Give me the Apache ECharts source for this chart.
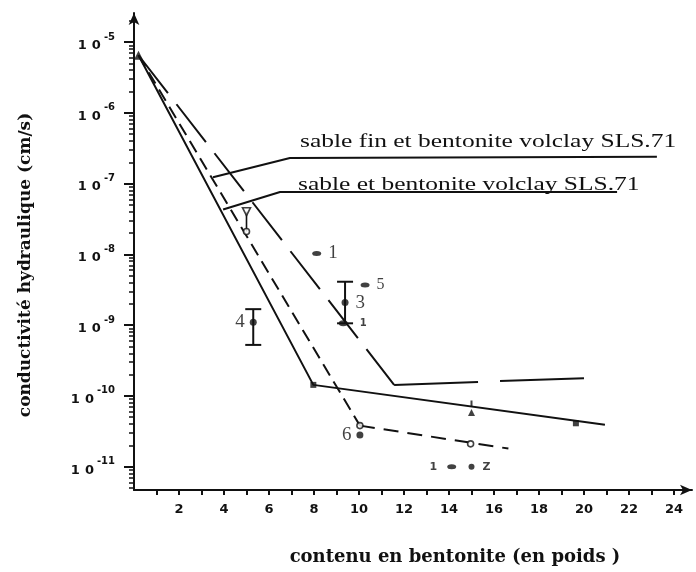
<!DOCTYPE html>
<html>
<head>
<meta charset="utf-8">
<script src="https://cdn.jsdelivr.net/npm/echarts@6/dist/echarts.min.js"></script>
<style>
  html, body { margin: 0; padding: 0; background: #ffffff; }
  #chart { width: 696px; height: 572px; }
</style>
</head>
<body>
<div id="chart"></div>
<script>
// Hydraulic conductivity (cm/s) against bentonite content (% by weight).
// Conductivities are stored in cm/s and plotted on a log10 scale.

// ---- axes ----
const decades = [-11, -10, -9, -8, -7, -6, -5];
const xTickValues = [1, 2, 3, 4, 5, 6, 7, 8, 9, 10, 11, 12, 13, 14, 15, 16, 17, 18, 19, 20, 21, 22, 23, 24];
const xLabelValues = [2, 4, 6, 8, 10, 12, 14, 16, 18, 20, 22, 24];

// ---- curves [bentonite %, k cm/s] ----
const curveSolid = [[0.2, 6.5e-6], [7.97, 1.43e-10], [20.93, 3.9e-11]];
const curveShortDash1 = [[0.2, 6.5e-6], [10.04, 3.8e-11]];
const curveShortDash2 = [[10.04, 3.8e-11], [16.64, 1.8e-11]];
const curveLongDash1 = [[0.2, 6.5e-6], [11.56, 1.43e-10]];
const curveLongDash2 = [[11.56, 1.43e-10], [20.4, 1.8e-10]];

// ---- markers on the curves ----
const startPoint = [[0.2, 6.5e-6]];
const openCircles = [[5.0, 2.1e-8], [10.04, 3.8e-11], [14.96, 2.1e-11]];
const cupMark = [[5.0, 4.0e-8]];
const cupStem = [[5.0, 2.1e-8], [5.0, 4.0e-8]];
const solidSquares = [[7.97, 1.43e-10], [19.64, 4.1e-11]];
const solidTriangles = [[15.0, 5.8e-11]];
const solidTicks = [[15.0, 7.8e-11]];

// ---- measured points ----
const pointNames = ['1', '3', '5', '4', '6'];
const pointX = [8.12, 9.38, 10.27, 5.30, 10.04];
const pointK = [1.03e-8, 2.08e-9, 3.7e-9, 1.10e-9, 2.8e-11];
// error bars: [bentonite %, upper k, lower k]
const errorBars = [[9.38, 4.1e-9, 1.06e-9], [5.30, 1.68e-9, 5.25e-10]];
const smallPoints = [[9.30, 1.06e-9, '1']];
const keyPoints = [[14.12, 1.0e-11, '1'], [15.0, 1.0e-11, 'Z']];

// ---- leader lines for the two mixtures ----
const leaderFine = [[3.51, 1.23e-7], [6.93, 2.3e-7], [23.24, 2.4e-7]];
const leaderSand = [[3.96, 4.3e-8], [6.49, 7.6e-8], [21.47, 7.6e-8]];
const mixtureNames = ['sable fin et bentonite volclay SLS.71', 'sable et bentonite volclay SLS.71'];

const lg = (p) => [p[0], Math.log10(p[1])];
const minorTicks = [];
for (let d = -12; d <= -5; d++) {
  for (let m = 2; m <= 9; m++) {
    const v = d + Math.log10(m);
    if (v > -11.33 && v < -4.6) minorTicks.push(v);
  }
}

const INK = '#111111';
const chart = echarts.init(document.getElementById('chart'));

const lineSeries = (data, type, width) => ({
  type: 'line',
  data: data.map(lg),
  symbol: 'none',
  silent: true,
  lineStyle: { color: INK, width: width || 2, type: type || 'solid' },
  z: 3
});

const markSeries = (data, symbol, size, filled, extra) => Object.assign({
  type: 'scatter',
  data: data.map(lg),
  symbol: symbol,
  symbolSize: size,
  silent: true,
  itemStyle: filled
    ? { color: INK }
    : { color: '#ffffff', borderColor: INK, borderWidth: 1.6 },
  z: 5
}, extra || {});

const numberLabel = (pos, dist, size) => ({
  show: true,
  position: pos,
  distance: dist,
  color: INK,
  fontFamily: 'Liberation Serif',
  fontSize: size
});

const option = {
  animation: false,
  backgroundColor: '#ffffff',
  grid: { left: 134, right: 4, top: 13, bottom: 82, outerBoundsMode: 'none' },
  xAxis: {
    type: 'value',
    min: 0,
    max: 24.8,
    axisLine: {
      show: true,
      lineStyle: { color: INK, width: 2 },
      symbol: ['none', 'arrow'],
      symbolSize: [8, 12]
    },
    axisTick: { show: true, length: 5, customValues: xTickValues, lineStyle: { color: INK, width: 2 } },
    axisLabel: {
      customValues: xLabelValues,
      color: INK,
      fontFamily: 'DejaVu Sans',
      fontWeight: 'bold',
      fontSize: 13,
      margin: 13
    },
    splitLine: { show: false }
  },
  yAxis: [
    {
      type: 'value',
      min: -11.33,
      max: -4.59,
      axisLine: {
        show: true,
        lineStyle: { color: INK, width: 2 },
        symbol: ['none', 'arrow'],
        symbolSize: [8, 12]
      },
      axisTick: { show: true, length: 10, customValues: decades, lineStyle: { color: INK, width: 2 } },
      axisLabel: {
        customValues: decades,
        margin: 19,
        formatter: (v) => '{o|1}{z|0}{e|' + Math.round(v) + '}',
        rich: {
          o: { fontFamily: 'DejaVu Sans', fontWeight: 'bold', fontSize: 13, color: INK, lineHeight: 20, verticalAlign: 'bottom', padding: [0, 5, 0, 0] },
          z: { fontFamily: 'DejaVu Sans', fontWeight: 'bold', fontSize: 13, color: INK, lineHeight: 20, verticalAlign: 'bottom' },
          e: { fontFamily: 'DejaVu Sans', fontWeight: 'bold', fontSize: 10, color: INK, lineHeight: 20, verticalAlign: 'top', padding: [0, 0, 0, 3] }
        }
      },
      splitLine: { show: false }
    },
    {
      type: 'value',
      min: -11.33,
      max: -4.59,
      position: 'left',
      axisLine: { show: false },
      axisTick: { show: true, length: 5, customValues: minorTicks, lineStyle: { color: INK, width: 1.5 } },
      axisLabel: { show: false },
      splitLine: { show: false }
    }
  ],
  series: [
    lineSeries(curveSolid, 'solid', 2),
    lineSeries(curveShortDash1, [13, 7], 2),
    lineSeries(curveShortDash2, [15, 9], 2),
    lineSeries(curveLongDash1, [48, 14], 2),
    lineSeries(curveLongDash2, [84, 22], 2),
    lineSeries(leaderFine, 'solid', 2),
    lineSeries(leaderSand, 'solid', 2),
    lineSeries(cupStem, 'solid', 1.6),

    markSeries(startPoint, 'triangle', 9, true),
    markSeries(openCircles, 'circle', 6, false),
    markSeries(cupMark, 'triangle', 8, false, { symbolRotate: 180 }),
    markSeries(solidSquares, 'rect', 6, true),
    markSeries(solidTriangles, 'triangle', 7, true),
    markSeries(solidTicks, 'rect', [2, 6], true),

    // error bars
    {
      type: 'custom',
      silent: true,
      data: errorBars.map((e) => [e[0], Math.log10(e[1]), Math.log10(e[2])]),
      renderItem: (params, api) => {
        const top = api.coord([api.value(0), api.value(1)]);
        const bot = api.coord([api.value(0), api.value(2)]);
        const half = 8;
        const st = { stroke: INK, lineWidth: 2 };
        return {
          type: 'group',
          children: [
            { type: 'line', shape: { x1: top[0], y1: top[1], x2: bot[0], y2: bot[1] }, style: st },
            { type: 'line', shape: { x1: top[0] - half, y1: top[1], x2: top[0] + half, y2: top[1] }, style: st },
            { type: 'line', shape: { x1: bot[0] - half, y1: bot[1], x2: bot[0] + half, y2: bot[1] }, style: st }
          ]
        };
      },
      z: 4
    },

    // numbered measurements
    {
      type: 'scatter',
      silent: true,
      symbol: 'circle',
      data: pointX.map((x, i) => {
        const right = i < 3;
        return {
          name: pointNames[i],
          value: [x, Math.log10(pointK[i])],
          symbolSize: (i === 0 || i === 2) ? [9, 5] : 7,
          label: numberLabel(right ? 'right' : 'left', right ? 7 : 5, i === 2 ? 16 : 19)
        };
      }),
      label: { show: true, formatter: (p) => p.name },
      itemStyle: { color: INK },
      z: 6
    },
    {
      type: 'scatter',
      silent: true,
      symbol: 'circle',
      symbolSize: [9, 6],
      data: smallPoints.map((p) => ({ name: p[2], value: [p[0], Math.log10(p[1])] })),
      label: {
        show: true, position: 'right', distance: 12, formatter: (p) => p.name,
        color: INK, fontFamily: 'DejaVu Sans', fontWeight: 'bold', fontSize: 10
      },
      itemStyle: { color: INK },
      z: 6
    },
    {
      type: 'scatter',
      silent: true,
      symbol: 'circle',
      data: keyPoints.map((p, i) => ({
        name: p[2],
        value: [p[0], Math.log10(p[1])],
        symbolSize: i === 0 ? [9, 5] : 6,
        label: { position: i === 0 ? 'left' : 'right', distance: i === 0 ? 10 : 8 }
      })),
      label: {
        show: true, formatter: (p) => p.name,
        color: INK, fontFamily: 'DejaVu Sans', fontWeight: 'bold', fontSize: 11
      },
      itemStyle: { color: INK },
      z: 6
    }
  ],
  graphic: [
    {
      type: 'text',
      x: 300, y: 142,
      scaleX: 1.34,
      style: {
        text: mixtureNames[0],
        fill: INK,
        font: '19px "Liberation Serif"',
        align: 'left',
        verticalAlign: 'middle'
      }
    },
    {
      type: 'text',
      x: 298, y: 185,
      scaleX: 1.34,
      style: {
        text: mixtureNames[1],
        fill: INK,
        font: '19px "Liberation Serif"',
        align: 'left',
        verticalAlign: 'middle'
      }
    },
    {
      type: 'text',
      x: 26, y: 265,
      rotation: Math.PI / 2,
      style: {
        text: 'conductivité hydraulique (cm/s)',
        fill: INK,
        font: 'bold 17px "DejaVu Serif"',
        align: 'center',
        verticalAlign: 'middle'
      }
    },
    {
      type: 'text',
      x: 455, y: 557,
      style: {
        text: 'contenu en bentonite (en poids )',
        fill: INK,
        font: 'bold 18px "DejaVu Serif"',
        align: 'center',
        verticalAlign: 'middle'
      }
    }
  ]
};

chart.setOption(option);
</script>
</body>
</html>
